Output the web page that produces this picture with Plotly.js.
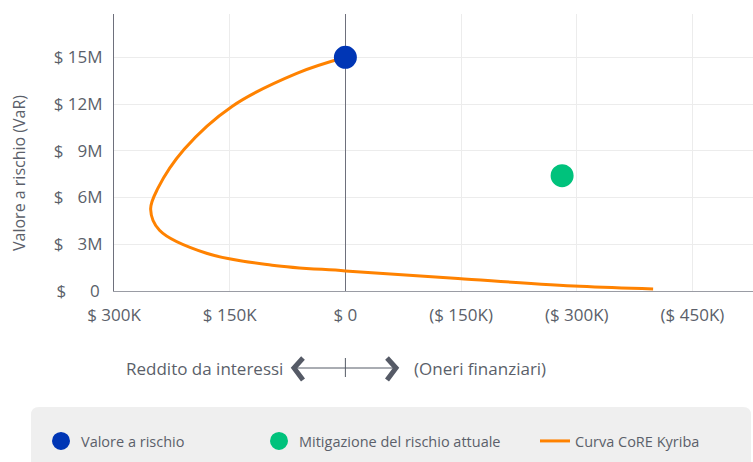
<!DOCTYPE html>
<html>
<head>
<meta charset="utf-8">
<script src="https://cdn.plot.ly/plotly-3.0.1.min.js"></script>
<style>html,body{margin:0;padding:0;background:#fff;}#chart{width:753px;height:462px;}</style>
</head>
<body>
<div id="chart"></div>
<script>
// x values in $K: negative = interest income (left), positive = financial charges (right)
var curveX = [0, -63, -147, -209, -243, -252.5, -241, -180, -95, 0, 146, 304, 399];
var curveY = [15.0, 13.97, 11.85, 9.1, 6.6, 5.25, 3.9, 2.42, 1.66, 1.29, 0.80, 0.30, 0.13];
var varX = [0];
var varY = [15.0];
var mitX = [281];
var mitY = [7.4];
var xTickVals = [-300, -150, 0, 150, 300, 450];
var xTickText = ["$ 300K", "$ 150K", "$ 0", "($ 150K)", "($ 300K)", "($ 450K)"];
var yTickVals = [0, 3, 6, 9, 12, 15];
var yTickText = ["$ \u2007\u20070\u2009", "$ \u20073M", "$ \u20076M", "$ \u20079M", "$ 12M", "$ 15M"];
var names = ["Valore a rischio", "Mitigazione del rischio attuale", "Curva CoRE Kyriba"];
var yTitle = "Valore a rischio (VaR)";

var W = 753, H = 462, L = 114, T = 14, PW = 639, PH = 277;
function px(x) { return (x - L) / PW; }
function py(y) { return (T + PH - y) / PH; }

var textColor = "#5b5f6a";
var font = "'Open Sans', 'Noto Sans', sans-serif";

var traces = [
  {x: curveX, y: curveY, type: "scatter", mode: "lines", name: names[2],
   line: {color: "#ff8200", width: 3, shape: "spline", smoothing: 1},
   legend: "legend3", hoverinfo: "skip"},
  {x: varX, y: varY, type: "scatter", mode: "markers", name: names[0],
   marker: {color: "#0036b5", size: 21, line: {color: "#0036b5", width: 2}},
   legend: "legend"},
  {x: mitX, y: mitY, type: "scatter", mode: "markers", name: names[1],
   marker: {color: "#00c27c", size: 21, line: {color: "#00c27c", width: 2}},
   legend: "legend2"}
];

// rounded legend box
var bx0 = px(31), bx1 = px(751), byT = py(407), byB = py(475);
var rx = 8 / PW, ry = 8 / PH;
var boxPath = "M" + bx0 + "," + byB + " L" + bx0 + "," + (byT - ry) +
  " Q" + bx0 + "," + byT + " " + (bx0 + rx) + "," + byT +
  " L" + (bx1 - rx) + "," + byT + " Q" + bx1 + "," + byT + " " + bx1 + "," + (byT - ry) +
  " L" + bx1 + "," + byB + " Z";

var arrowY = 368;
var arrowColor = "#555a66";
var shapes = [
  {type: "path", xref: "paper", yref: "paper", path: boxPath, fillcolor: "#efefef", line: {width: 0}, layer: "below"},
  {type: "line", xref: "paper", yref: "paper", x0: px(296), x1: px(394), y0: py(arrowY), y1: py(arrowY), line: {color: arrowColor, width: 1}},
  {type: "line", xref: "x", yref: "paper", x0: 0, x1: 0, y0: py(358), y1: py(377), line: {color: arrowColor, width: 1}},
  {type: "path", xref: "paper", yref: "paper",
   path: "M" + px(303) + "," + py(358) + " L" + px(294) + "," + py(arrowY) + " L" + px(303) + "," + py(380),
   line: {color: arrowColor, width: 5}},
  {type: "path", xref: "paper", yref: "paper",
   path: "M" + px(387) + "," + py(358) + " L" + px(396) + "," + py(arrowY) + " L" + px(387) + "," + py(380),
   line: {color: arrowColor, width: 5}}
];

var annotations = [
  {xref: "paper", yref: "paper", x: px(285), y: py(arrowY), xanchor: "right", yanchor: "middle", showarrow: false,
   text: "Reddito da interessi", font: {family: font, size: 17, color: textColor}},
  {xref: "paper", yref: "paper", x: px(412), y: py(arrowY), xanchor: "left", yanchor: "middle", showarrow: false,
   text: "(Oneri finanziari)", font: {family: font, size: 17, color: textColor}},
  {xref: "paper", yref: "paper", x: px(19), y: py(173), xanchor: "center", yanchor: "middle", showarrow: false,
   textangle: -90, text: yTitle, font: {family: font, size: 16, color: textColor}}
];

function leg(xpx) {
  return {xref: "container", yref: "container", x: xpx / W, y: 1 - 441 / H, xanchor: "left", yanchor: "middle",
    bgcolor: "rgba(0,0,0,0)", borderwidth: 0, orientation: "h", itemsizing: "trace",
    font: {family: font, size: 14.5, color: textColor}};
}

var layout = {
  width: W, height: H,
  margin: {l: L, r: W - L - PW, t: T, b: H - T - PH, pad: 0},
  paper_bgcolor: "#ffffff", plot_bgcolor: "#ffffff",
  font: {family: font, color: textColor},
  showlegend: true,
  xaxis: {range: [-300, 528.5], tickvals: xTickVals, ticktext: xTickText, showgrid: true, gridcolor: "#ececec", gridwidth: 1,
    zeroline: true, zerolinecolor: "#6e707c", zerolinewidth: 1, showline: true, linecolor: "#9a9ca4", linewidth: 1,
    ticks: "", ticklabelstandoff: 9, tickfont: {family: font, size: 17, color: textColor}, fixedrange: true},
  yaxis: {range: [0, 17.78], tickvals: yTickVals, ticktext: yTickText, showgrid: true, gridcolor: "#ececec", gridwidth: 1,
    zeroline: false, showline: true, linecolor: "#6e707c", linewidth: 1,
    ticks: "", ticklabelstandoff: 7, tickfont: {family: font, size: 17, color: textColor}, fixedrange: true},
  legend: leg(41), legend2: leg(259), legend3: leg(535),
  shapes: shapes, annotations: annotations
};

Plotly.newPlot("chart", traces, layout, {displayModeBar: false, staticPlot: true});
</script>
</body>
</html>
